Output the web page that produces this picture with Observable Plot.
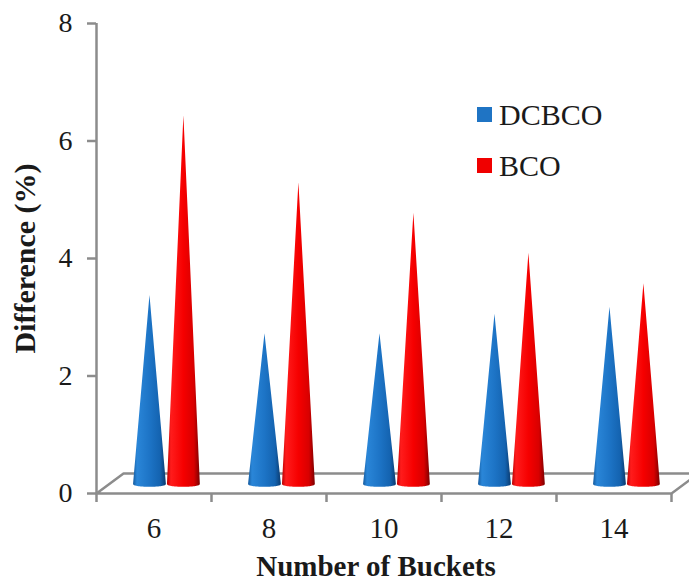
<!DOCTYPE html>
<html><head><meta charset="utf-8">
<script src="https://cdn.jsdelivr.net/npm/d3@7"></script>
<script src="https://cdn.jsdelivr.net/npm/@observablehq/plot@0.6"></script>
<style>body{margin:0;background:#fff}</style>
</head><body><div id="chart"></div>
<script>
// ---- data ----
const categories = ["6", "8", "10", "12", "14"];
const seriesNames = ["DCBCO", "BCO"];
const dcbco = [3.37, 2.72, 2.72, 3.05, 3.17];
const bco = [6.43, 5.29, 4.77, 4.09, 3.57];
const yTicks = [0, 2, 4, 6, 8];
const xTitle = "Number of Buckets";
const yTitle = "Difference (%)";
const seriesColors = ["#1f74c4", "#f00000"];

// ---- geometry helpers (layout) ----
const coneOffset = [0.465, 0.76];
const halfW = 0.143, baseY = 0.15, ell = 0.045, N = 30;
function coneRows(vals, si) {
  const rows = [];
  categories.forEach((c, ci) => {
    const cx = ci + coneOffset[si];
    for (let k = 0; k <= N; k++) {
      const t = -1 + 2 * k / N;
      rows.push({
        id: seriesNames[si] + c,
        x: cx + t * halfW,
        top: baseY + (vals[ci] - baseY) * (1 - Math.abs(t)),
        bottom: baseY - ell * Math.sqrt(Math.max(0, 1 - t * t))
      });
    }
  });
  return rows;
}
const blueRows = coneRows(dcbco, 0);
const redRows = coneRows(bco, 1);
const depthX = 0.235, depthY = 0.34;
const nCat = categories.length;
const floor = [
  {x: 0, y: 0}, {x: nCat, y: 0}, {x: nCat + depthX, y: depthY},
  {x: depthX, y: depthY}, {x: 0, y: 0}
];

const gradients = () => {
  const g = d3.create("svg:defs");
  const defs = [
    ["gBlue", [[0, "#145a9e"], [0.12, "#2a86d8"], [0.5, "#1d74c6"], [0.82, "#1463b0"], [1, "#0b3a6e"]]],
    ["gRed", [[0, "#b80000"], [0.12, "#ff1c1c"], [0.5, "#f60000"], [0.82, "#d80000"], [1, "#7a0000"]]]
  ];
  for (const [id, stops] of defs) {
    const lg = g.append("linearGradient").attr("id", id).attr("x1", 0).attr("x2", 1).attr("y1", 0).attr("y2", 0);
    for (const [o, c] of stops) lg.append("stop").attr("offset", o).attr("stop-color", c);
  }
  return g.node();
};

const legend = () => {
  const g = d3.create("svg:g").attr("font-size", 30).attr("fill", "#1a1a1a").attr("text-anchor", "start");
  seriesNames.forEach((s, i) => {
    g.append("rect").attr("x", 477).attr("y", 107 + 51 * i).attr("width", 15).attr("height", 15).attr("fill", seriesColors[i]);
    g.append("text").attr("x", 499).attr("y", 114.5 + 51 * i).attr("dy", "0.35em").text(s);
  });
  return g.node();
};

const gray = "#8c8c8c";
const chart = Plot.plot({
  width: 689,
  height: 588,
  marginLeft: 96,
  marginRight: 18,
  marginTop: 23,
  marginBottom: 95,
  x: {domain: [0, nCat], axis: null},
  y: {domain: [0, 8], axis: null},
  style: {fontFamily: "'Liberation Serif', 'Times New Roman', serif", background: "white", color: "#1a1a1a"},
  marks: [
    gradients,
    Plot.line(floor, {x: "x", y: "y", stroke: gray, strokeWidth: 2.5}),
    Plot.ruleX([0], {y1: 0, y2: 8, stroke: gray, strokeWidth: 2.5}),
    Plot.axisY({ticks: yTicks, tickSize: 9, tickPadding: 15, fontSize: 28, stroke: gray, strokeWidth: 2.5, fill: "#1a1a1a", label: null}),
    Plot.axisX({ticks: d3.range(nCat + 1), tickFormat: () => "", tickSize: 9, stroke: gray, strokeWidth: 2.5, label: null}),
    Plot.axisX({ticks: categories.map((c, i) => i + 0.5), tickFormat: d => categories[Math.floor(d)], tickSize: 0, tickPadding: 24, fontSize: 29, fill: "#1a1a1a", label: null}),
    Plot.areaY(blueRows, {x: "x", y1: "bottom", y2: "top", z: "id", fill: "url(#gBlue)", curve: "linear"}),
    Plot.areaY(redRows, {x: "x", y1: "bottom", y2: "top", z: "id", fill: "url(#gRed)", curve: "linear"}),
    Plot.text([xTitle], {frameAnchor: "bottom", textAnchor: "middle", dy: 82, dx: -8, fontSize: 29, fontWeight: "bold", fill: "#1a1a1a"}),
    Plot.text([yTitle], {frameAnchor: "left", textAnchor: "middle", rotate: -90, dx: -71, fontSize: 30, fontWeight: "bold", fill: "#1a1a1a"}),
    legend
  ]
});
document.getElementById("chart").appendChild(chart);
</script>
</body></html>
